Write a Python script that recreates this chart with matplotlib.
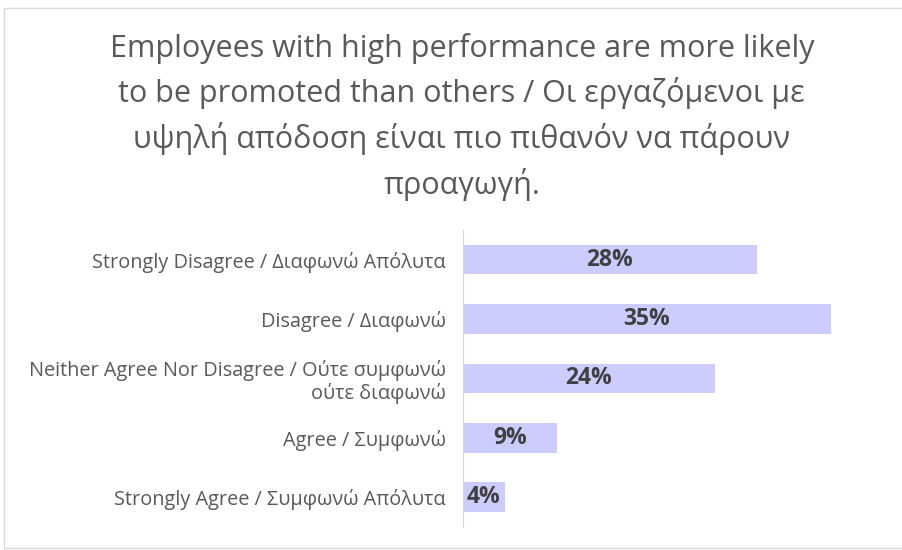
import matplotlib.pyplot as plt
from matplotlib.patches import Rectangle

plt.rcParams['font.family'] = ['Open Sans', 'DejaVu Sans']

categories = [
    "Strongly Disagree / Διαφωνώ Απόλυτα",
    "Disagree / Διαφωνώ",
    "Neither Agree Nor Disagree / Ούτε συμφωνώ\nούτε διαφωνώ",
    "Agree / Συμφωνώ",
    "Strongly Agree / Συμφωνώ Απόλυτα",
]
values = [28, 35, 24, 9, 4]
title = ("Employees with high performance are more likely\n"
         "to be promoted than others / Οι εργαζόμενοι με\n"
         "υψηλή απόδοση είναι πιο πιθανόν να πάρουν\n"
         "προαγωγή.")

fig = plt.figure(figsize=(9.02, 5.5), dpi=100)
fig.patches.append(Rectangle((4 / 902, 2 / 550), 1.0, 540 / 550, transform=fig.transFigure,
                             fill=False, edgecolor="#d9d9d9", linewidth=1))

ax = fig.add_axes([0.513, 0.042, 0.466, 0.540])
y = list(range(len(values)))
ax.barh(y, values, height=0.5, color="#ccccff")
ax.set_ylim(len(values) - 0.5, -0.5)
ax.set_xlim(0, 40)
ax.set_yticks(y)
ax.set_yticklabels(categories, fontsize=14.3, color="#595959", linespacing=1.1)
ax.tick_params(axis="y", length=0, pad=12)
ax.set_xticks([])
for s in ["top", "right", "bottom"]:
    ax.spines[s].set_visible(False)
ax.spines["left"].set_color("#d9d9d9")

for yi, v in zip(y, values):
    ax.text(v / 2, yi, f"{v}%", ha="center", va="center", fontsize=16.5,
            fontweight="bold", color="#404040")

fig.text(0.512, 0.787, title, ha="center", va="center", fontsize=22,
         color="#595959", linespacing=1.5)

fig.savefig("out.png", dpi=100)
